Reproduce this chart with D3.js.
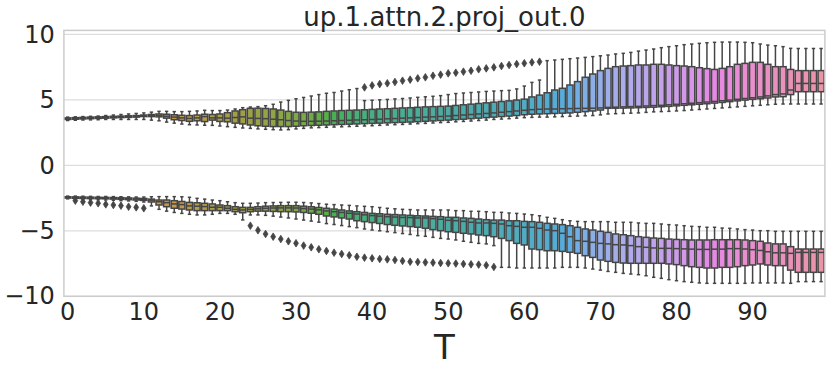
<!DOCTYPE html>
<html>
<head>
<meta charset="utf-8">
<script src="https://cdn.jsdelivr.net/npm/d3@7"></script>
<style>
  body { margin: 0; background: #fff; }
  svg { display: block; font-family: "DejaVu Sans", sans-serif; }
</style>
</head>
<body>
<script>
// categories: diffusion step T
var T = d3.range(100);
var xTicks = [0, 10, 20, 30, 40, 50, 60, 70, 80, 90];
var yTicks = [-10, -5, 0, 5, 10];

// upper group (positive values): whisker low, q1, median, q3, whisker high
var upLo = [3.42,3.44,3.46,3.47,3.48,3.50,3.50,3.50,3.50,3.50,
  3.50,3.45,3.40,3.30,3.22,3.15,3.10,3.08,3.06,3.05,
  3.00,2.95,2.90,2.85,2.82,2.78,2.75,2.72,2.70,2.72,
  2.78,2.82,2.86,2.88,2.90,2.92,2.94,2.96,2.98,3.00,
  3.02,3.05,3.08,3.10,3.12,3.15,3.18,3.20,3.23,3.26,
  3.28,3.32,3.35,3.38,3.42,3.45,3.50,3.53,3.56,3.60,
  3.64,3.66,3.68,3.68,3.70,3.72,3.74,3.76,3.78,3.80,
  3.85,3.92,3.94,3.96,3.98,4.00,4.04,4.08,4.10,4.12,
  4.15,4.18,4.22,4.26,4.30,4.34,4.38,4.42,4.46,4.50,
  4.54,4.58,4.62,4.66,4.68,4.68,4.68,4.68,4.68,4.68];
var upQ1 = [3.50,3.52,3.54,3.56,3.58,3.60,3.62,3.64,3.66,3.68,
  3.72,3.72,3.70,3.60,3.48,3.42,3.36,3.40,3.34,3.45,
  3.35,3.32,3.22,3.16,3.08,3.02,2.98,2.96,2.96,2.96,
  2.98,3.02,3.04,3.06,3.08,3.10,3.12,3.14,3.16,3.18,
  3.20,3.22,3.24,3.26,3.28,3.30,3.33,3.36,3.39,3.42,
  3.45,3.49,3.52,3.56,3.60,3.64,3.68,3.72,3.76,3.80,
  3.86,3.90,3.92,3.94,3.96,3.98,4.00,4.05,4.10,4.15,
  4.22,4.35,4.36,4.37,4.38,4.40,4.42,4.44,4.47,4.50,
  4.54,4.58,4.62,4.66,4.70,4.75,4.80,4.86,4.92,4.98,
  5.04,5.08,5.14,5.22,5.24,5.40,5.62,5.62,5.62,5.62];
var upMed = [3.56,3.58,3.60,3.62,3.64,3.66,3.68,3.70,3.72,3.74,
  3.78,3.80,3.80,3.74,3.68,3.62,3.58,3.62,3.72,3.62,
  3.62,3.60,3.65,3.70,3.60,3.58,3.56,3.52,3.48,3.42,
  3.38,3.36,3.36,3.37,3.38,3.40,3.42,3.44,3.46,3.48,
  3.50,3.52,3.55,3.57,3.60,3.62,3.65,3.68,3.70,3.73,
  3.76,3.80,3.84,3.88,3.92,3.96,4.00,4.05,4.10,4.15,
  4.20,4.25,4.28,4.30,4.30,4.32,4.33,4.34,4.35,4.36,
  4.38,4.42,4.44,4.46,4.48,4.50,4.53,4.56,4.58,4.62,
  4.66,4.70,4.74,4.78,4.83,4.88,4.93,4.98,5.04,5.10,
  5.16,5.22,5.30,5.40,5.45,5.75,6.25,6.25,6.25,6.25];
var upQ3 = [3.62,3.64,3.66,3.68,3.70,3.72,3.74,3.76,3.78,3.80,
  3.84,3.88,3.92,3.90,3.86,3.82,3.80,3.84,3.90,3.88,
  3.92,4.02,4.15,4.25,4.35,4.36,4.34,4.30,4.22,4.12,
  4.05,4.04,4.06,4.08,4.12,4.15,4.18,4.20,4.22,4.24,
  4.27,4.30,4.32,4.35,4.38,4.40,4.43,4.46,4.48,4.50,
  4.52,4.57,4.62,4.67,4.72,4.77,4.82,4.87,4.92,4.98,
  5.05,5.22,5.36,5.54,5.75,5.88,6.13,6.39,6.72,6.97,
  7.23,7.40,7.53,7.58,7.61,7.66,7.66,7.71,7.71,7.66,
  7.61,7.58,7.53,7.45,7.38,7.32,7.40,7.53,7.71,7.78,
  7.86,7.86,7.71,7.53,7.53,7.32,7.23,7.23,7.23,7.23];
var upHi = [3.68,3.70,3.72,3.74,3.76,3.80,3.84,3.88,3.92,3.96,
  4.00,4.06,4.12,4.12,4.10,4.10,4.12,4.15,4.20,4.18,
  4.18,4.22,4.30,4.40,4.45,4.48,4.55,4.66,4.83,4.96,
  5.08,5.18,5.29,5.40,5.50,5.56,5.67,5.77,5.86,4.94,
  4.97,5.00,5.03,5.07,5.10,5.14,5.19,5.23,5.27,5.32,
  5.40,5.48,5.52,5.56,5.60,5.64,5.67,5.70,5.72,5.83,
  6.05,6.33,6.51,7.99,8.04,8.09,8.14,8.19,8.24,8.30,
  8.36,8.42,8.50,8.55,8.62,8.72,8.80,8.88,8.98,9.06,
  9.13,9.21,9.26,9.31,9.36,9.39,9.41,9.41,9.41,9.39,
  9.36,9.26,9.18,9.13,9.06,8.93,8.92,8.92,8.92,8.92];
// upper outliers: [T, value]
var upFliers = [[39,5.95],[40,6.10],[41,6.20],[42,6.26],[43,6.36],[44,6.46],
  [45,6.54],[46,6.64],[47,6.72],[48,6.84],[49,6.92],[50,7.02],[51,7.07],
  [52,7.15],[53,7.22],[54,7.33],[55,7.40],[56,7.48],[57,7.58],[58,7.66],
  [59,7.73],[60,7.79],[61,7.86],[62,7.91]];

// lower group (negative values)
var loLo = [-2.56,-2.58,-2.60,-2.62,-2.63,-2.65,-2.67,-2.70,-2.72,-2.75,
  -2.80,-3.10,-3.36,-3.50,-3.60,-3.67,-3.74,-3.79,-3.79,-3.74,
  -3.67,-3.67,-3.74,-4.17,-3.79,-3.79,-3.82,-3.88,-3.95,-4.02,
  -4.10,-4.18,-4.26,-4.34,-4.45,-4.52,-4.60,-4.68,-4.76,-4.86,
  -4.94,-5.00,-5.07,-5.14,-5.21,-5.28,-5.37,-5.42,-5.50,-5.58,
  -5.63,-5.70,-5.80,-5.88,-5.96,-6.00,-6.13,-7.79,-7.79,-7.84,
  -7.84,-7.84,-7.84,-7.84,-7.84,-7.79,-7.79,-7.79,-7.84,-7.92,
  -8.00,-8.10,-8.17,-8.25,-8.30,-8.35,-8.43,-8.55,-8.63,-8.73,
  -8.81,-8.88,-8.93,-8.98,-9.01,-9.01,-9.01,-9.01,-9.01,-9.01,
  -8.98,-8.98,-8.98,-8.98,-8.98,-9.01,-8.88,-8.88,-8.88,-8.88];
var loQ1 = [-2.50,-2.52,-2.53,-2.54,-2.55,-2.56,-2.58,-2.60,-2.62,-2.65,
  -2.68,-2.80,-3.03,-3.16,-3.28,-3.34,-3.41,-3.46,-3.46,-3.46,
  -3.46,-3.46,-3.54,-3.62,-3.54,-3.50,-3.50,-3.52,-3.54,-3.54,
  -3.56,-3.60,-3.66,-3.74,-3.87,-3.94,-4.02,-4.10,-4.23,-4.30,
  -4.37,-4.44,-4.52,-4.58,-4.63,-4.68,-4.73,-4.81,-4.91,-4.99,
  -5.07,-5.12,-5.19,-5.24,-5.32,-5.37,-5.45,-5.58,-5.75,-5.96,
  -6.08,-6.39,-6.44,-6.52,-6.52,-6.57,-6.64,-6.72,-6.90,-7.03,
  -7.23,-7.33,-7.41,-7.46,-7.48,-7.48,-7.48,-7.48,-7.48,-7.53,
  -7.58,-7.66,-7.74,-7.79,-7.84,-7.84,-7.79,-7.79,-7.74,-7.66,
  -7.61,-7.53,-7.61,-7.66,-7.66,-8.00,-8.17,-8.17,-8.17,-8.17];
var loMed = [-2.45,-2.46,-2.47,-2.48,-2.49,-2.50,-2.51,-2.53,-2.55,-2.57,
  -2.60,-2.66,-2.78,-2.85,-2.95,-3.00,-3.10,-3.12,-3.15,-3.20,
  -3.20,-3.28,-3.36,-3.41,-3.36,-3.32,-3.28,-3.26,-3.25,-3.25,
  -3.26,-3.30,-3.34,-3.40,-3.48,-3.54,-3.60,-3.66,-3.72,-3.78,
  -3.84,-3.88,-3.92,-3.95,-3.98,-3.99,-4.02,-4.02,-4.07,-4.12,
  -4.20,-4.23,-4.28,-4.35,-4.40,-4.40,-4.43,-4.48,-4.61,-4.66,
  -4.73,-4.73,-4.81,-4.94,-4.99,-5.19,-5.45,-5.75,-5.80,-5.88,
  -5.96,-6.00,-6.06,-6.08,-6.13,-6.21,-6.26,-6.31,-6.34,-6.34,
  -6.36,-6.38,-6.40,-6.42,-6.42,-6.40,-6.40,-6.36,-6.36,-6.39,
  -6.44,-6.50,-6.60,-6.68,-6.68,-6.72,-6.65,-6.65,-6.65,-6.65];
var loQ3 = [-2.40,-2.41,-2.42,-2.43,-2.44,-2.45,-2.46,-2.47,-2.49,-2.51,
  -2.53,-2.58,-2.65,-2.65,-2.70,-2.76,-2.83,-2.86,-2.90,-2.95,
  -3.03,-3.08,-3.16,-3.21,-3.21,-3.16,-3.12,-3.10,-3.08,-3.08,
  -3.08,-3.12,-3.16,-3.22,-3.28,-3.34,-3.41,-3.48,-3.54,-3.60,
  -3.67,-3.70,-3.74,-3.76,-3.79,-3.82,-3.85,-3.87,-3.90,-3.92,
  -3.97,-3.97,-4.02,-4.05,-4.10,-4.15,-4.18,-4.18,-4.23,-4.23,
  -4.28,-4.30,-4.35,-4.43,-4.48,-4.53,-4.61,-4.73,-4.86,-4.94,
  -5.04,-5.12,-5.24,-5.30,-5.37,-5.45,-5.50,-5.55,-5.58,-5.63,
  -5.66,-5.68,-5.70,-5.70,-5.70,-5.68,-5.68,-5.68,-5.68,-5.70,
  -5.75,-5.80,-5.93,-6.00,-6.00,-6.21,-6.39,-6.39,-6.39,-6.39];
var loHi = [-2.35,-2.35,-2.36,-2.37,-2.38,-2.38,-2.39,-2.40,-2.41,-2.42,
  -2.42,-2.40,-2.39,-2.39,-2.39,-2.40,-2.44,-2.52,-2.58,-2.65,
  -2.70,-2.78,-2.85,-2.90,-2.90,-2.88,-2.85,-2.84,-2.83,-2.82,
  -2.82,-2.84,-2.87,-2.92,-2.97,-3.00,-3.03,-3.06,-3.10,-3.13,
  -3.16,-3.22,-3.28,-3.32,-3.36,-3.38,-3.41,-3.41,-3.41,-3.41,
  -3.41,-3.46,-3.46,-3.51,-3.51,-3.54,-3.59,-3.59,-3.64,-3.67,
  -3.72,-3.77,-3.85,-3.97,-4.05,-4.15,-4.23,-4.28,-4.30,-4.30,
  -4.30,-4.30,-4.35,-4.35,-4.35,-4.40,-4.43,-4.43,-4.48,-4.53,
  -4.56,-4.61,-4.66,-4.68,-4.73,-4.73,-4.79,-4.81,-4.86,-4.91,
  -4.94,-4.99,-4.99,-5.04,-5.04,-5.04,-5.04,-5.04,-5.04,-5.04];
var loFliers = [[1,-2.70],[2,-2.78],[3,-2.85],[4,-2.90],[5,-2.98],[6,-3.03],
  [7,-3.08],[8,-3.16],[9,-3.21],[10,-3.28],
  [24,-4.61],[25,-4.96],[26,-5.24],[27,-5.45],[28,-5.63],[29,-5.80],[30,-5.95],
  [31,-6.13],[32,-6.26],[33,-6.41],[34,-6.54],[35,-6.67],[36,-6.77],[37,-6.87],
  [38,-6.98],[39,-7.05],[40,-7.10],[41,-7.15],[42,-7.18],[43,-7.23],[44,-7.30],
  [45,-7.36],[46,-7.38],[47,-7.41],[48,-7.43],[49,-7.46],[50,-7.48],[51,-7.50],
  [52,-7.53],[53,-7.56],[54,-7.58],[55,-7.63],[56,-7.76]];

// ---- husl palette like seaborn ----
var M = [[3.240969941904521, -1.537383177570093, -0.498610760293],
         [-0.96924363628087, 1.87596750150772, 0.041555057407175],
         [0.055630079696993, -0.20397695888897, 1.056971514242878]];
var refU = 0.19783000664283, refV = 0.46831999493879;
var kappa = 903.2962962, eps = 0.0088564516;

function bounds(L) {
  var out = [];
  var sub1 = Math.pow(L + 16, 3) / 1560896;
  var sub2 = sub1 > eps ? sub1 : L / kappa;
  M.forEach(function (m) {
    [0, 1].forEach(function (t) {
      var top1 = (284517 * m[0] - 94839 * m[2]) * sub2;
      var top2 = (838422 * m[2] + 769860 * m[1] + 731718 * m[0]) * L * sub2 - 769860 * t * L;
      var bottom = (632260 * m[2] - 126452 * m[1]) * sub2 + 126452 * t;
      out.push([top1 / bottom, top2 / bottom]);
    });
  });
  return out;
}
function maxChroma(L, H) {
  var hr = H / 360 * 2 * Math.PI, best = Infinity;
  bounds(L).forEach(function (b) {
    var len = b[1] / (Math.sin(hr) - b[0] * Math.cos(hr));
    if (len >= 0) best = Math.min(best, len);
  });
  return best;
}
function husl(H, S, L) {
  var C = maxChroma(L, H) / 100 * S;
  var hr = H / 180 * Math.PI;
  var U = Math.cos(hr) * C, V = Math.sin(hr) * C;
  var Y = L <= 8 ? L / kappa : Math.pow((L + 16) / 116, 3);
  var vu = U / (13 * L) + refU, vv = V / (13 * L) + refV;
  var X = 0 - (9 * Y * vu) / ((vu - 4) * vv - vu * vv);
  var Z = (9 * Y - 15 * vv * Y - vv * X) / (3 * vv);
  return M.map(function (m) {
    var v = m[0] * X + m[1] * Y + m[2] * Z;
    var g = v <= 0.0031308 ? 12.92 * v : 1.055 * Math.pow(v, 1 / 2.4) - 0.055;
    return Math.max(0, Math.min(1, g));
  });
}

var lightVals = [];
var colors = T.map(function (d, i) {
  var h = ((i / T.length + 0.01) % 1) * 359;
  var rgb = husl(h, 0.9 * 99, 0.7 * 99);
  var c = d3.hsl(d3.rgb(rgb[0] * 255, rgb[1] * 255, rgb[2] * 255));
  c.s *= 0.75;
  lightVals.push(c.l);
  return c.formatHex();
});
var lum = Math.round(d3.min(lightVals) * 0.6 * 255);
var gray = d3.rgb(lum, lum, lum).formatHex();

// ---- chart ----
var width = 831, height = 368;
var svg = d3.select("body").append("svg")
  .attr("width", width)
  .attr("height", height);

var x = d3.scaleBand().domain(T).range([63.9, 824.9]).paddingInner(0.2).paddingOuter(0.1);
var y = d3.scaleLinear().domain([-10, 10.3]).range([296.3, 30.4]);

// grid
svg.append("g").selectAll("line")
  .data(yTicks)
  .enter()
  .append("line")
  .attr("x1", 63.9).attr("x2", 824.9)
  .attr("y1", function (d) { return y(d); })
  .attr("y2", function (d) { return y(d); })
  .style("stroke", "#dddddd")
  .style("stroke-width", 1.3);

var bw = x.bandwidth();
var capW = bw * 0.55;

function drawGroup(lo, q1, med, q3, hi, fliers) {
  var g = svg.append("g");
  var items = T.map(function (t, i) {
    return { t: t, lo: lo[i], q1: q1[i], med: med[i], q3: q3[i], hi: hi[i], c: colors[i] };
  });
  var box = g.selectAll("g.box").data(items).enter().append("g").attr("class", "box");
  box.append("line")
    .attr("x1", function (d) { return x(d.t) + bw / 2; })
    .attr("x2", function (d) { return x(d.t) + bw / 2; })
    .attr("y1", function (d) { return y(d.hi); })
    .attr("y2", function (d) { return y(d.lo); })
    .style("stroke", gray).style("stroke-width", 1.5);
  ["hi", "lo"].forEach(function (k) {
    box.append("line")
      .attr("x1", function (d) { return x(d.t) + bw / 2 - capW / 2; })
      .attr("x2", function (d) { return x(d.t) + bw / 2 + capW / 2; })
      .attr("y1", function (d) { return y(d[k]); })
      .attr("y2", function (d) { return y(d[k]); })
      .style("stroke", gray).style("stroke-width", 1.5);
  });
  box.append("rect")
    .attr("x", function (d) { return x(d.t); })
    .attr("width", bw)
    .attr("y", function (d) { return y(d.q3); })
    .attr("height", function (d) { return Math.max(0.01, y(d.q1) - y(d.q3)); })
    .style("fill", function (d) { return d.c; })
    .style("stroke", gray).style("stroke-width", 1.5);
  box.append("line")
    .attr("x1", function (d) { return x(d.t); })
    .attr("x2", function (d) { return x(d.t) + bw; })
    .attr("y1", function (d) { return y(d.med); })
    .attr("y2", function (d) { return y(d.med); })
    .style("stroke", gray).style("stroke-width", 1.5);
  g.selectAll("path.flier").data(fliers).enter().append("path")
    .attr("class", "flier")
    .attr("transform", function (d) { return "translate(" + (x(d[0]) + bw / 2) + "," + y(d[1]) + ")"; })
    .attr("d", "M0,-3.8L2.4,0L0,3.8L-2.4,0Z")
    .style("fill", gray).style("stroke", gray).style("stroke-width", 0.8);
}

drawGroup(upLo, upQ1, upMed, upQ3, upHi, upFliers);
drawGroup(loLo, loQ1, loMed, loQ3, loHi, loFliers);

// spines
svg.append("rect")
  .attr("x", 63.9).attr("y", 30.4)
  .attr("width", 824.9 - 63.9).attr("height", 296.3 - 30.4)
  .style("fill", "none").style("stroke", "#cccccc").style("stroke-width", 1.5);

// axes
var yAxis = svg.append("g")
  .attr("transform", "translate(63.9,0)")
  .call(d3.axisLeft(y).tickValues(yTicks).tickSize(0).tickPadding(9));
var xAxis = svg.append("g")
  .attr("transform", "translate(0,296.3)")
  .call(d3.axisBottom(x).tickValues(xTicks).tickSize(0).tickPadding(7));
[yAxis, xAxis].forEach(function (a) {
  a.select(".domain").remove();
  a.selectAll("text")
    .style("font-family", "DejaVu Sans, sans-serif")
    .style("font-size", "24px")
    .style("fill", "#262626");
});

svg.append("text")
  .attr("x", (63.9 + 824.9) / 2).attr("y", 26)
  .attr("text-anchor", "middle")
  .style("font-size", "26px").style("fill", "#262626")
  .text("up.1.attn.2.proj_out.0");

svg.append("text")
  .attr("x", (63.9 + 824.9) / 2).attr("y", 358.5)
  .attr("text-anchor", "middle")
  .style("font-size", "34px").style("fill", "#262626")
  .text("T");
</script>
</body>
</html>
